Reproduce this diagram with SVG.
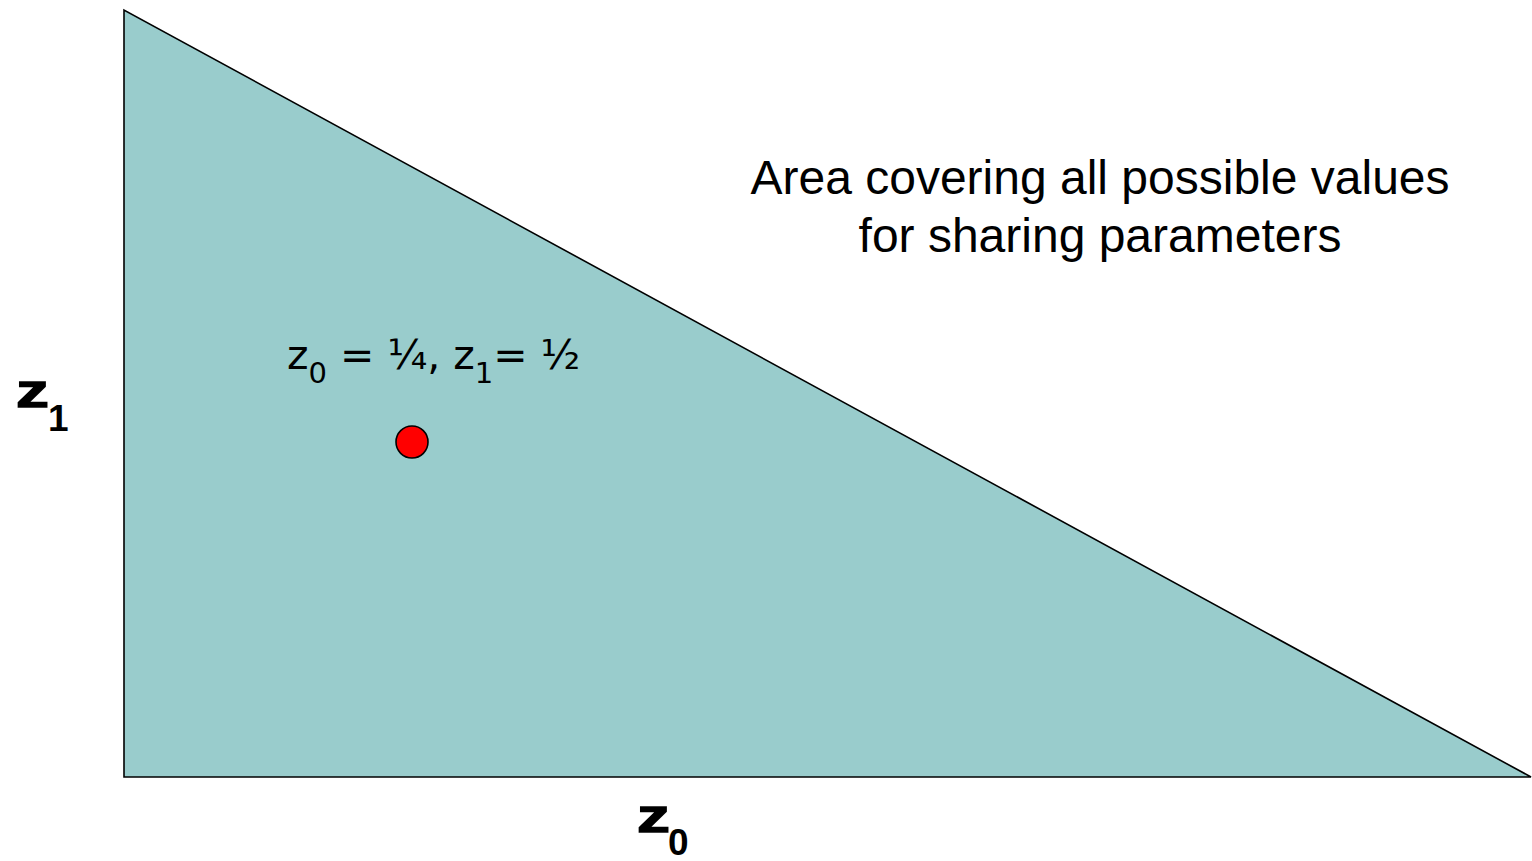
<svg xmlns="http://www.w3.org/2000/svg" width="1532" height="861" viewBox="0 0 1532 861">
<style>
text{fill:#000}
.area{font-family:"Liberation Sans",Arial,sans-serif;font-size:48px}
.lbl{font-family:"DejaVu Sans",Verdana,sans-serif;font-size:41px}
.sub{font-size:29px}
.axz{font-family:"Liberation Sans",Arial,sans-serif;font-weight:bold;font-size:47px;stroke:#000;stroke-width:1.4}
.axs{font-family:"Liberation Sans",Arial,sans-serif;font-weight:bold;font-size:37px}
</style>
<rect width="1532" height="861" fill="#fff"/>
<g id="region">
<polygon points="124,10 124,777 1531,777" fill="#99CCCC" stroke="#000" stroke-width="1.6"/>
</g>
<g id="point">
<circle cx="412" cy="442" r="16" fill="#FF0000" stroke="#000" stroke-width="1.6"/>
</g>
<g id="area-label">
<text class="area" x="1100" y="194" text-anchor="middle">Area covering all possible values</text>
<text class="area" x="1100" y="252" text-anchor="middle">for sharing parameters</text>
</g>
<g id="point-label">
<text class="lbl" x="287" y="369">z<tspan class="sub" dy="14">0</tspan><tspan dy="-14"> = ¼, z</tspan><tspan class="sub" dy="14">1</tspan><tspan dy="-14">= ½</tspan></text>
</g>
<g id="axis-z1">
<text class="axz" transform="translate(16,407) scale(1.4,1)">z</text>
<text class="axs" x="48" y="431">1</text>
</g>
<g id="axis-z0">
<text class="axz" transform="translate(637,832) scale(1.4,1)">z</text>
<text class="axs" x="668" y="855">0</text>
</g>
</svg>
